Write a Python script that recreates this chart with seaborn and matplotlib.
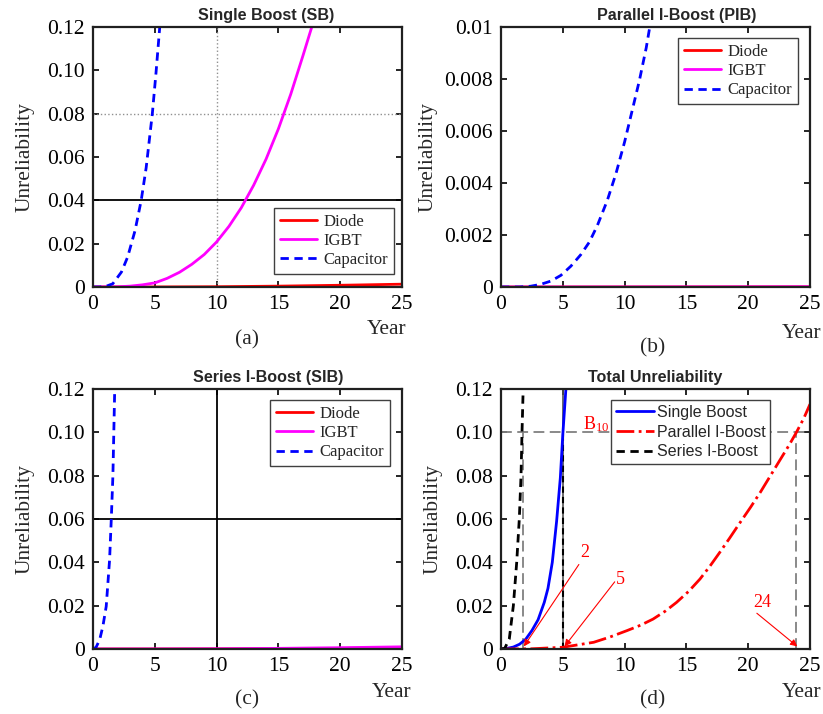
import numpy as np
import pandas as pd
import matplotlib
matplotlib.use("Agg")
import matplotlib.pyplot as plt
import seaborn as sns

# ---- data ----
# (a) Single Boost (SB)
sb_cap_x = [0, 0.5, 1.0, 1.6, 2.3, 2.8, 3.4, 3.9, 4.3, 4.8, 5.1, 5.4, 5.6]
sb_cap_y = [0, 0, 0.0002, 0.0015, 0.0069, 0.0138, 0.026, 0.040, 0.055, 0.080, 0.099, 0.12, 0.135]
sb_igbt_x = [0, 2, 3, 4, 5, 6, 7, 8, 9, 10, 11, 12, 13, 14, 15, 16, 17, 17.7, 18]
sb_igbt_y = [0, 0.0001, 0.0004, 0.0010, 0.0019, 0.0040, 0.0068, 0.0105, 0.015, 0.0208,
             0.028, 0.0366, 0.047, 0.059, 0.073, 0.089, 0.107, 0.12, 0.127]
sb_diode_x = [0, 5, 10, 15, 20, 25]
sb_diode_y = [0, 0.00002, 0.00012, 0.0004, 0.0008, 0.0013]

# (b) Parallel I-Boost (PIB)
pib_cap_x = [0, 1.5, 2.4, 3.2, 4.05, 4.85, 5.65, 6.45, 7.15, 7.8, 8.6, 9.3, 10.0,
             10.65, 11.2, 11.75, 12.0, 12.3]
pib_cap_y = [0, 0, 0.00003, 0.0001, 0.00023, 0.00045, 0.0008, 0.00124, 0.00173, 0.00237,
             0.00333, 0.00436, 0.00558, 0.00686, 0.00795, 0.0092, 0.0099, 0.0107]
pib_comp_x = [0, 5, 10, 15, 20, 25]
pib_diode_y = [0, 0, 0.000001, 0.000002, 0.000004, 0.000006]
pib_igbt_y = [0, 0, 0.000001, 0.000003, 0.000006, 0.00001]

# (c) Series I-Boost (SIB)
sib_cap_x = [0, 0.25, 0.54, 0.8, 1.07, 1.34, 1.48, 1.61, 1.75]
sib_cap_y = [0, 0.0008, 0.0043, 0.0105, 0.0197, 0.041, 0.060, 0.080, 0.118]
sib_comp_x = [0, 5, 10, 15, 20, 25]
sib_diode_y = [0, 0.00001, 0.00005, 0.00015, 0.0003, 0.0005]
sib_igbt_y = [0, 0.00002, 0.0001, 0.0003, 0.0006, 0.001]

# (d) Total unreliability
tot_sb_x = [0, 0.5, 1.0, 1.5, 2.0, 2.5, 3.0, 3.5, 3.8, 4.15, 4.5, 4.8, 5.0, 5.25, 5.4]
tot_sb_y = [0, 0.0003, 0.0009, 0.0022, 0.0045, 0.0085, 0.0135, 0.0215, 0.028, 0.040,
            0.059, 0.079, 0.099, 0.12, 0.132]
tot_pib_x = [0, 2.5, 5.0, 7.5, 8.8, 10.2, 11.3, 12.3, 13.3, 14.2, 15.2, 16.1, 16.9, 17.7,
             18.5, 19.3, 20.2, 21.0, 21.8, 22.6, 23.3, 23.9, 24.5, 25]
tot_pib_y = [0, 0.0001, 0.0008, 0.0031, 0.0055, 0.0085, 0.011, 0.0138, 0.0175, 0.0215,
             0.0267, 0.0323, 0.0382, 0.0446, 0.0512, 0.058, 0.0655, 0.0725, 0.080, 0.0875,
             0.094, 0.100, 0.1065, 0.113]
tot_sib_x = [0, 0.3, 0.67, 1.0, 1.27, 1.48, 1.62, 1.7, 1.78]
tot_sib_y = [0, 0.0003, 0.0046, 0.020, 0.040, 0.060, 0.080, 0.100, 0.117]
b10_level = 0.1
b10_years = [1.75, 5.04, 23.87]
b10_labels = ["2", "5", "24"]

x_ticks = [0, 5, 10, 15, 20, 25]
y_ticks_a = [0, 0.02, 0.04, 0.06, 0.08, 0.10, 0.12]
y_labels_a = ["0", "0.02", "0.04", "0.06", "0.08", "0.10", "0.12"]
y_ticks_b = [0, 0.002, 0.004, 0.006, 0.008, 0.01]
y_labels_b = ["0", "0.002", "0.004", "0.006", "0.008", "0.01"]

titles = ["Single Boost (SB)", "Parallel I-Boost (PIB)", "Series I-Boost (SIB)", "Total Unreliability"]
panel_tags = ["(a)", "(b)", "(c)", "(d)"]

# ---- style ----
sns.set_theme(style="ticks")
plt.rcParams["font.family"] = ["Liberation Serif", "DejaVu Serif"]
plt.rcParams["mathtext.default"] = "regular"

RED, MAG, BLUE = "#ff0000", "#ff00ff", "#0000ff"
SANS = ["Liberation Sans", "DejaVu Sans"]
FS = 15.5

fig = plt.figure(figsize=(8.23, 7.14), dpi=100)
W, H = 823, 714
boxes = [(93, 27), (501, 27), (93, 389), (501, 389)]
axes = []
for (l, t) in boxes:
    axes.append(fig.add_axes([l / W, 1 - (t + 260) / H, 309 / W, 260 / H]))


def style_axis(ax, yticks, ylabels, ymax, title, tx, tag, tag_xy, year_xy, year_ha, ylab_x):
    ax.set_xlim(0, 25)
    ax.set_ylim(0, ymax)
    ax.set_xticks(x_ticks)
    ax.set_yticks(yticks)
    ax.set_yticklabels(ylabels)
    ax.tick_params(direction="in", length=4, width=1.2, top=True, right=True,
                   labelsize=FS, colors="black", pad=6)
    for s in ax.spines.values():
        s.set_linewidth(1.6)
        s.set_color("#202020")
    ax.set_xlabel("")
    ax.set_ylabel("Unreliability", fontsize=FS)
    ax.yaxis.set_label_coords(ylab_x, 0.5)
    ax.text(tx, 1.015, title, transform=ax.transAxes, ha="center", va="bottom",
            fontsize=11.6, fontweight="bold", family=SANS)
    ax.text(tag_xy[0], tag_xy[1], tag, transform=ax.transAxes, ha="center",
            va="center", fontsize=FS)
    ax.text(year_xy[0], year_xy[1], "Year", transform=ax.transAxes, ha=year_ha,
            va="center", fontsize=FS, clip_on=False)


def comp_legend(ax, loc, anchor):
    leg = ax.legend(loc=loc, bbox_to_anchor=anchor, fancybox=False, framealpha=1,
                    edgecolor="#404040", fontsize=12, handlelength=2.2,
                    handletextpad=0.4, labelspacing=0.2, borderpad=0.35,
                    borderaxespad=0)
    leg.get_frame().set_linewidth(1.0)


# (a)
ax = axes[0]
ax.axvline(10, color="#909090", lw=1.0, ls=":", zorder=1)
ax.axhline(0.08, color="#909090", lw=1.0, ls=":", zorder=1)
ax.axhline(0.04, color="black", lw=1.3, zorder=1)
sns.lineplot(x=sb_diode_x, y=sb_diode_y, ax=ax, color=RED, lw=2, label="Diode")
sns.lineplot(x=sb_igbt_x, y=sb_igbt_y, ax=ax, color=MAG, lw=2, label="IGBT")
sns.lineplot(x=sb_cap_x, y=sb_cap_y, ax=ax, color=BLUE, lw=2, ls=(0, (3, 2)), label="Capacitor")
style_axis(ax, y_ticks_a, y_labels_a, 0.12, titles[0], 0.56, panel_tags[0],
           (0.497, -0.205), (1.013, -0.165), "right", -0.19)
comp_legend(ax, "lower right", (0.974, 0.05))

# (b)
ax = axes[1]
sns.lineplot(x=pib_comp_x, y=pib_diode_y, ax=ax, color=RED, lw=2, label="Diode")
sns.lineplot(x=pib_comp_x, y=pib_igbt_y, ax=ax, color=MAG, lw=2, label="IGBT")
sns.lineplot(x=pib_cap_x, y=pib_cap_y, ax=ax, color=BLUE, lw=2, ls=(0, (3, 2)), label="Capacitor")
style_axis(ax, y_ticks_b, y_labels_b, 0.01, titles[1], 0.57, panel_tags[1],
           (0.492, -0.235), (0.909, -0.177), "left", -0.204)
comp_legend(ax, "upper right", (0.961, 0.958))

# (c)
ax = axes[2]
ax.axvline(10, color="black", lw=1.3, zorder=1)
ax.axhline(0.06, color="black", lw=1.3, zorder=1)
sns.lineplot(x=sib_comp_x, y=sib_diode_y, ax=ax, color=RED, lw=2, label="Diode")
sns.lineplot(x=sib_comp_x, y=sib_igbt_y, ax=ax, color=MAG, lw=2, label="IGBT")
sns.lineplot(x=sib_cap_x, y=sib_cap_y, ax=ax, color=BLUE, lw=2, ls=(0, (3, 2)), label="Capacitor")
style_axis(ax, y_ticks_a, y_labels_a, 0.12, titles[2], 0.568, panel_tags[2],
           (0.5, -0.196), (1.029, -0.169), "right", -0.19)
comp_legend(ax, "upper right", (0.961, 0.958))

# (d)
ax = axes[3]
GREY = "#808080"
ax.axhline(b10_level, color=GREY, lw=1.3, ls=(0, (6, 3)), zorder=1)
ax.vlines([b10_years[0], b10_years[2]], 0, b10_level, color=GREY, lw=1.3,
          ls=(0, (6, 3)), zorder=1)
ax.axvline(b10_years[1], color="#505050", lw=1.2, zorder=1)
ax.vlines(b10_years[1], 0, b10_level, color="black", lw=1.5, ls=(0, (3, 2)), zorder=1.5)
sns.lineplot(x=tot_sb_x, y=tot_sb_y, ax=ax, color=BLUE, lw=2, label="Single Boost")
sns.lineplot(x=tot_pib_x, y=tot_pib_y, ax=ax, color=RED, lw=2, ls="-.", label="Parallel I-Boost")
sns.lineplot(x=tot_sib_x, y=tot_sib_y, ax=ax, color="black", lw=2, ls=(0, (3, 2)), label="Series I-Boost")
style_axis(ax, y_ticks_a, y_labels_a, 0.12, titles[3], 0.498, panel_tags[3],
           (0.492, -0.196), (0.909, -0.169), "left", -0.19)
leg = ax.legend(loc="upper right", bbox_to_anchor=(0.871, 0.958), fancybox=False,
                framealpha=1, edgecolor="#404040", prop={"family": SANS, "size": 11.5},
                handlelength=2.4, handletextpad=0.15, labelspacing=0.3,
                borderpad=0.3, borderaxespad=0)
leg.get_frame().set_linewidth(1.0)

ax.text(6.66, 0.104, "B$_{10}$", color=RED, fontsize=13, ha="left", va="center", zorder=6)
text_pos = [(6.8, 0.0446), (9.63, 0.0323), (21.17, 0.0215)]
tail_pos = [(6.3, 0.039), (9.2, 0.031), (20.7, 0.0165)]
for yr, lab, tp, tl in zip(b10_years, b10_labels, text_pos, tail_pos):
    ax.text(tp[0], tp[1], lab, color=RED, fontsize=13, ha="center", va="center")
    ax.annotate("", xy=(yr + 0.1, 0.0012), xytext=tl,
                arrowprops=dict(arrowstyle="-|>", color=RED, lw=0.8,
                                mutation_scale=10, shrinkA=0, shrinkB=0))

fig.savefig("out.png", dpi=100)
